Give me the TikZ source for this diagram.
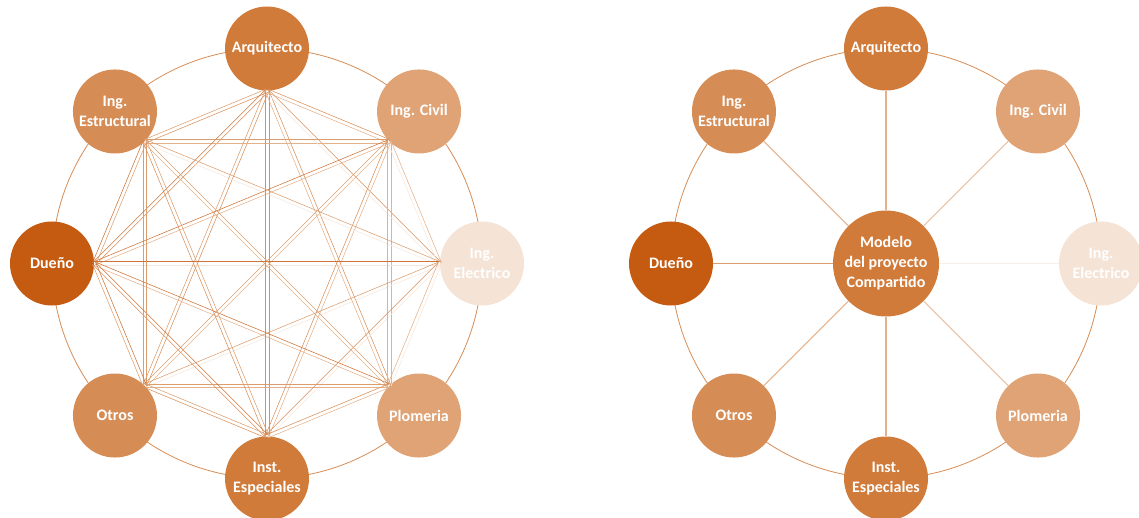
\documentclass[tikz,border=0pt]{standalone}
\usepackage{fontspec}
\setmainfont{Carlito}
\usetikzlibrary{calc}
\definecolor{cA}{HTML}{D17B3A}
\definecolor{cB}{HTML}{D68C55}
\definecolor{cC}{HTML}{DFA376}
\definecolor{cD}{HTML}{C55A11}
\definecolor{cE}{HTML}{F5E3D6}
\begin{document}
\begin{tikzpicture}[x=1pt,y=1pt,
  pnode/.style={circle,minimum size=84pt,inner sep=0pt,text=white,align=center,font=\fontsize{16}{20}\selectfont\bfseries},
  hubnode/.style={pnode,minimum size=106pt},
  ring/.style={draw=cB,line width=0.8pt},
  mesh/.style={line width=0.55pt},
  spoke/.style={line width=1.1pt}]
\useasboundingbox (0,0) rectangle (1139,517);
\coordinate (LC) at (267,253.5);
\coordinate (RC) at (886,253.5);
\draw[ring] (LC) circle (215);
\draw[ring] (RC) circle (215);
\foreach \s/\c in {L/LC,R/RC}{
  \node[pnode,fill=cA] (\s1) at ($(\c)+(90:215)$) {Arquitecto};
  \node[pnode,fill=cC] (\s2) at ($(\c)+(45:215)$) {Ing. Civil};
  \node[pnode,fill=cE] (\s3) at ($(\c)+(0:215)$) {Ing.\\Electrico};
  \node[pnode,fill=cC] (\s4) at ($(\c)+(-45:215)$) {Plomeria};
  \node[pnode,fill=cA] (\s5) at ($(\c)+(-90:215)$) {Inst.\\Especiales};
  \node[pnode,fill=cB] (\s6) at ($(\c)+(-135:215)$) {Otros};
  \node[pnode,fill=cD] (\s7) at ($(\c)+(180:215)$) {Dueño};
  \node[pnode,fill=cB] (\s8) at ($(\c)+(135:215)$) {Ing.\\Estructural};
}
% complete graph (left)
\foreach \i/\ai/\ci in {1/270/cA,2/225/cC,3/180/cE,4/135/cC,5/90/cA,6/45/cB,7/0/cD,8/315/cB}{
  \foreach \j/\aj in {1/270,2/225,3/180,4/135,5/90,6/45,7/0,8/315}{
    \ifnum\i=\j\relax\else
      \draw[mesh,draw=\ci!85] ($(L\i.\ai)!1.8pt!90:(L\j.\aj)$) -- ($(L\j.\aj)!1.8pt!-90:(L\i.\ai)$);
    \fi
  }
}
% hub (right)
\node[hubnode,fill=cA] (M) at (RC) {Modelo\\del proyecto\\Compartido};
\foreach \k/\ck in {1/cA,2/cC,3/cE,4/cC,5/cA,6/cB,7/cD,8/cB}{
  \draw[spoke,draw=\ck!60] (M) -- (R\k);
}
\end{tikzpicture}
\end{document}
